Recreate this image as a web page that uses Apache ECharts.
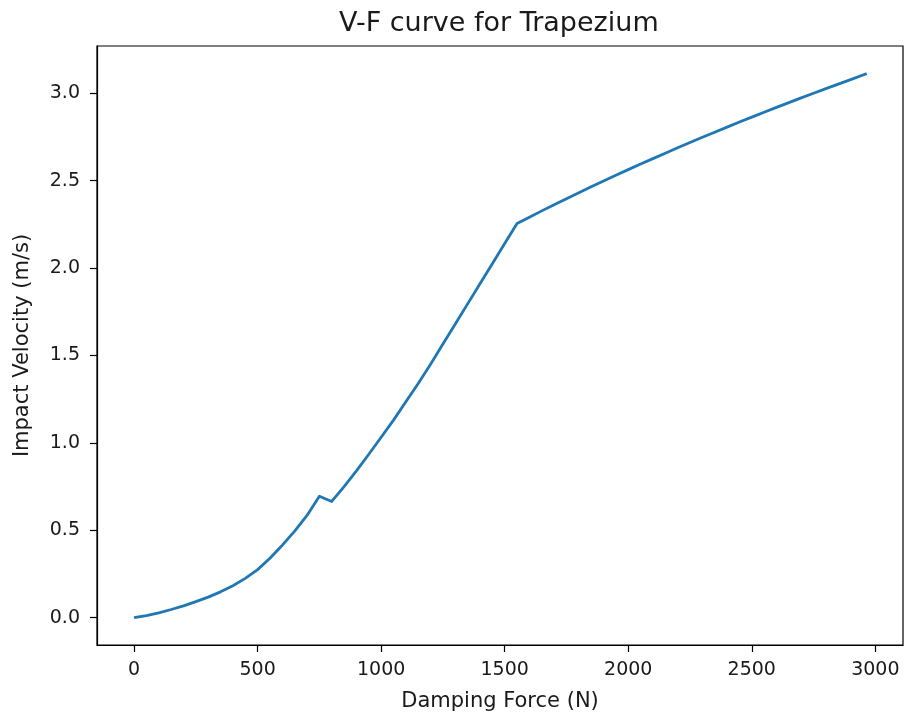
<!DOCTYPE html>
<html>
<head>
<meta charset="utf-8">
<title>V-F curve for Trapezium</title>
<script src="https://cdn.jsdelivr.net/npm/echarts@6/dist/echarts.min.js"></script>
<style>
  html, body { margin: 0; padding: 0; background: #ffffff; }
  #chart { width: 911px; height: 721px; }
</style>
</head>
<body>
<div id="chart"></div>
<script>
// Damping force samples (N)
const dampingForce = [
  0, 50, 100, 150, 200, 250, 300, 350, 400, 450,
  500, 550, 600, 650, 700, 750, 800, 850, 900, 950,
  1000, 1050, 1100, 1150, 1200, 1250, 1300, 1350, 1400, 1450,
  1500, 1550, 1600, 1650, 1700, 1750, 1800, 1850, 1900, 1950,
  2000, 2050, 2100, 2150, 2200, 2250, 2300, 2350, 2400, 2450,
  2500, 2550, 2600, 2650, 2700, 2750, 2800, 2850, 2900, 2950, 2965
];

// Impact velocity for each force sample (m/s)
const impactVelocity = [
  0.000, 0.012, 0.028, 0.047, 0.068, 0.092, 0.118, 0.148, 0.183, 0.225,
  0.275, 0.340, 0.415, 0.495, 0.585, 0.695, 0.665, 0.750, 0.840, 0.935,
  1.032, 1.130, 1.235, 1.340, 1.450, 1.565, 1.680, 1.795, 1.910, 2.025,
  2.140, 2.255, 2.291, 2.327, 2.362, 2.397, 2.431, 2.465, 2.498, 2.531,
  2.563, 2.595, 2.626, 2.657, 2.688, 2.718, 2.748, 2.777, 2.806, 2.835,
  2.863, 2.891, 2.919, 2.946, 2.973, 3.000, 3.026, 3.052, 3.078, 3.104, 3.112
];

const xTicks = [0, 500, 1000, 1500, 2000, 2500, 3000];
const yTicks = [0.0, 0.5, 1.0, 1.5, 2.0, 2.5, 3.0];

const points = dampingForce.map((f, i) => [f, impactVelocity[i]]);

const textColor = '#1a1a1a';
const font = 'DejaVu Sans';

const chart = echarts.init(document.getElementById('chart'), null, { renderer: 'canvas' });
chart.setOption({
  animation: false,
  backgroundColor: '#ffffff',
  title: {
    text: 'V-F curve for Trapezium',
    left: 334,
    top: 5,
    textStyle: { fontFamily: font, fontSize: 27, fontWeight: 'normal', color: textColor }
  },
  grid: {
    left: 97, right: 8, top: 46, bottom: 76,
    outerBoundsMode: 'none',
    show: true,
    borderColor: '#000000',
    borderWidth: 1.2,
    backgroundColor: 'transparent'
  },
  xAxis: {
    type: 'value',
    min: -150,
    max: 3112,
    name: 'Damping Force (N)',
    nameLocation: 'middle',
    nameGap: 46,
    nameTextStyle: { fontFamily: font, fontSize: 21, color: textColor },
    axisLine: { show: true, onZero: false, lineStyle: { color: '#000000', width: 1.2 } },
    axisTick: { show: true, length: 7, inside: false, customValues: xTicks, lineStyle: { color: '#000000', width: 1.2 } },
    axisLabel: {
      customValues: xTicks,
      margin: 16,
      fontFamily: font, fontSize: 19, color: textColor,
      formatter: v => String(Math.round(v))
    },
    splitLine: { show: false }
  },
  yAxis: {
    type: 'value',
    min: -0.156,
    max: 3.27,
    name: 'Impact Velocity (m/s)',
    nameLocation: 'middle',
    nameGap: 64,
    nameRotate: 90,
    nameTextStyle: { fontFamily: font, fontSize: 21, color: textColor },
    axisLine: { show: true, onZero: false, lineStyle: { color: '#000000', width: 1.2 } },
    axisTick: { show: true, length: 7, inside: false, customValues: yTicks, lineStyle: { color: '#000000', width: 1.2 } },
    axisLabel: {
      customValues: yTicks,
      margin: 17,
      fontFamily: font, fontSize: 19, color: textColor,
      formatter: v => v.toFixed(1)
    },
    splitLine: { show: false }
  },
  series: [{
    type: 'line',
    data: points,
    showSymbol: false,
    symbol: 'none',
    smooth: false,
    lineStyle: { color: '#1f77b4', width: 2.8, join: 'round' },
    clip: true
  }]
});
</script>
</body>
</html>
